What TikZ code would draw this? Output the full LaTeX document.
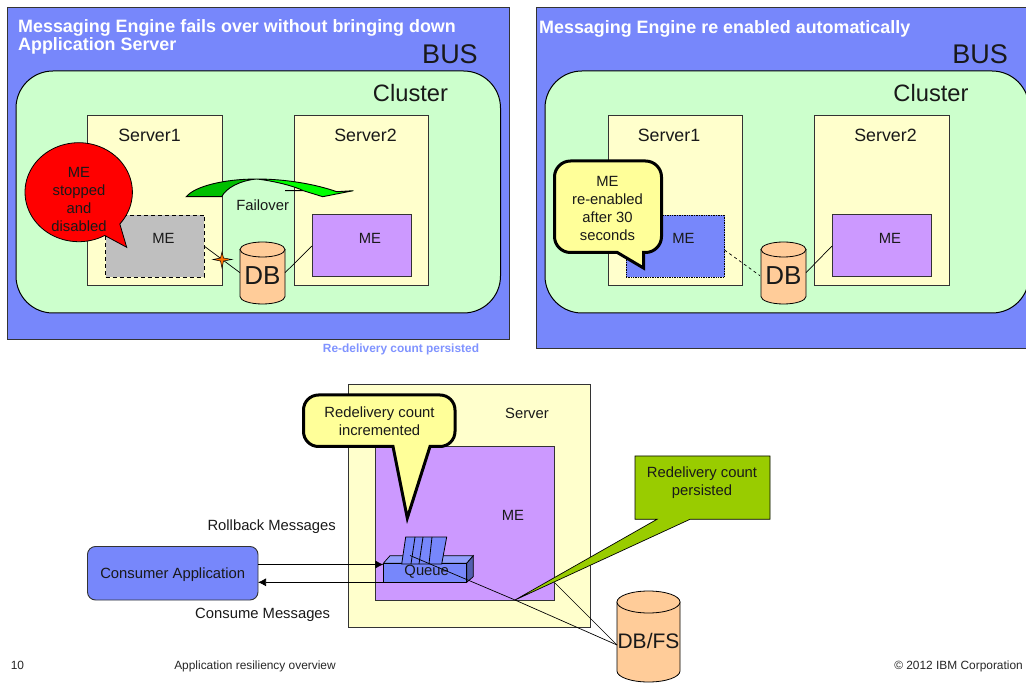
\documentclass[tikz,border=0pt]{standalone}
\usepackage{fontspec}
\setmainfont{Liberation Sans}
\definecolor{busblue}{HTML}{7787FB}
\definecolor{clustergreen}{HTML}{CCFFCC}
\definecolor{srvyellow}{HTML}{FFFFCC}
\definecolor{mepurple}{HTML}{CC99FF}
\definecolor{megray}{HTML}{BFBFBF}
\definecolor{canorange}{HTML}{FFCC99}
\definecolor{noteyellow}{HTML}{FFFF99}
\definecolor{noteolive}{HTML}{99CC00}
\definecolor{edgegray}{HTML}{333333}
\definecolor{faintblue}{HTML}{8093FF}
\tikzset{
  sz/.style 2 args={minimum width=#1pt,minimum height=#2pt,inner sep=0pt,outer sep=0pt},
  panel/.style={draw=edgegray,fill=busblue,line width=1pt},
  clusterbox/.style={draw=black,fill=clustergreen,line width=1pt,rounded corners=37pt},
  srvbox/.style={draw=edgegray,fill=srvyellow,line width=1pt},
  mebox/.style={draw=edgegray,fill=mepurple,line width=1pt},
  can/.style={draw=black,fill=canorange,line width=0.8pt},
  conn/.style={draw=black,line width=0.7pt},
  arrowconn/.style={draw=black,line width=0.7pt,-{Latex[length=8pt,width=8pt]}},
  txt/.style={anchor=base,inner sep=0pt,font=\fontsize{14.8}{18}\selectfont,text=black!90},
  bus/.style={txt,font=\fontsize{27}{30}\selectfont},
  clustertxt/.style={txt,font=\fontsize{23.7}{28}\selectfont},
  srvtxt/.style={txt,font=\fontsize{17.8}{20}\selectfont},
  title/.style={anchor=base west,inner sep=0pt,align=left,text=white,font=\fontsize{17.9}{19}\selectfont\bfseries},
  multi/.style={anchor=center,inner sep=0pt,align=center,text=black!90,font=\fontsize{14.8}{18}\selectfont},
  foot/.style={anchor=base,inner sep=0pt,text=black!85,font=\fontsize{11.9}{13}\selectfont},
  callout/.style={draw=black,fill=noteyellow,line width=3pt,line join=miter},
}
\usetikzlibrary{arrows.meta}
\newcommand{\dbcan}[5]{%
  \draw[can] ({#1-#4},#2) -- ({#1-#4},#3)
    arc[start angle=180,end angle=360,x radius=#4pt,y radius=#5pt] -- ({#1+#4},#2) -- cycle;
  \draw[can] (#1,#2) ellipse[x radius=#4pt,y radius=#5pt];}
% rounded note with a tail: x1,y1,x2,y2,radius,tail right x,tip x,tip y,tail left x
\newcommand{\tailnote}[9]{%
  \draw[callout] ({#1+#5},#2) -- ({#3-#5},#2)
    arc[start angle=90,end angle=0,radius=#5pt] -- (#3,{#4-#5})
    arc[start angle=0,end angle=-90,radius=#5pt] -- (#6,#4) -- (#7,#8) -- (#9,#4) -- ({#1+#5},#4)
    arc[start angle=-90,end angle=-180,radius=#5pt] -- (#1,{#2+#5})
    arc[start angle=180,end angle=90,radius=#5pt] -- cycle;}
\begin{document}
\begin{tikzpicture}[x=1pt,y=-1pt]
\useasboundingbox (0,0) rectangle (1026,684);
\clip (0,0) rectangle (1026,684);

% ---------- left panel
\node[panel,sz={502.5}{332}] (busL) at (258.25,174) {};
\node[title] (titleL) at (18,51) {Messaging Engine fails over without bringing down\\[-0.4pt]Application Server};
\node[bus] (busLtxt) at (450,63.3) {BUS};
\node[clusterbox,sz={484.5}{242}] (clusL) at (258.25,192) {};
\node[clustertxt] (clusLtxt) at (410.5,101.7) {Cluster};
\node[srvbox,sz={135}{170}] (s1L) at (155,201) {};
\node[srvbox,sz={134.5}{170}] (s2L) at (361.25,201) {};
\node[srvtxt] (s1Ltxt) at (149.5,141.7) {Server1};
\node[srvtxt] (s2Ltxt) at (365.5,141.7) {Server2};
\node[draw=black,fill=megray,line width=0.8pt,dash pattern=on 4pt off 3pt,sz={98.5}{62}] (meL1) at (154.75,246) {};
\node[mebox,sz={99}{62}] (meL2) at (361.5,246) {};
\node[txt] (meL1txt) at (163.5,243.3) {ME};
\node[txt] (meL2txt) at (370,243.3) {ME};
\dbcan{262.5}{249.5}{296.5}{22.5}{7.5}
\node[sz={45}{63}] (dbL) at (262.5,272.7) {};
\node[txt,font=\fontsize{26}{28}\selectfont] (dbLtxt) at (262.5,285) {DB};
\draw[conn] (meL1.east) -- (dbL.west);
\draw[conn] (dbL.east) -- (meL2.west);
% star on the broken link
\draw[fill=orange!90!red,draw=black,line width=0.5pt]
  (213,259.5) -- (220.5,258) -- (222,252) -- (223.5,258) -- (232,259.5) -- (223.5,261) -- (222,268) -- (220.5,261) -- cycle;
% failover
\node[fill=clustergreen,sz={69}{18}] (failL) at (259.5,206) {};
\node[txt] (failLtxt) at (262.7,211) {Failover};
\draw[draw=black,line width=0.9pt,fill=green!75!black]
  (186.3,196.7) .. controls (195,186) and (225,179) .. (256.7,179)
  .. controls (240,180.5) and (226,188) .. (221.7,196.7) -- cycle;
\draw[draw=black,line width=0.9pt,fill=green]
  (256.7,179) .. controls (285,179) and (315,184) .. (336.7,191.7)
  -- (353.3,190.7) -- (322.7,196.7) -- (303.3,190.7) -- (285,190.7) -- (303.3,190.7)
  .. controls (294,186) and (274,181) .. (256.7,179) -- cycle;
% red callout
\draw[draw=black,fill=red,line width=0.8pt]
  plot[domain=61:400,samples=90] ({78.7+53.7*cos(\x)},{192.2+49.5*sin(\x)})
  -- (126.7,247.3) -- cycle;
\node[multi] (noteL) at (79,199) {ME\\stopped\\and\\disabled};

% ---------- right panel
\node[panel,sz={500}{341}] (busR) at (786,178.5) {};
\node[title] (titleR) at (539,33.3) {Messaging Engine re enabled automatically};
\node[bus] (busRtxt) at (980,63.3) {BUS};
\node[clusterbox,sz={484}{242}] (clusR) at (787,192) {};
\node[clustertxt] (clusRtxt) at (931,101.7) {Cluster};
\node[srvbox,sz={134}{170}] (s1R) at (675,201) {};
\node[srvbox,sz={135}{170}] (s2R) at (881.5,201) {};
\node[srvtxt] (s1Rtxt) at (669,141.7) {Server1};
\node[srvtxt] (s2Rtxt) at (885.5,141.7) {Server2};
\node[draw=black,fill=busblue,line width=0.7pt,densely dotted,sz={98.5}{62}] (meR1) at (675.25,246) {};
\node[mebox,sz={99}{62}] (meR2) at (881.5,246) {};
\node[txt] (meR1txt) at (683.5,243.3) {ME};
\node[txt] (meR2txt) at (890,243.3) {ME};
\dbcan{783.5}{249.5}{296.5}{22.5}{7.5}
\node[sz={45}{63}] (dbR) at (783.5,272.7) {};
\node[txt,font=\fontsize{26}{28}\selectfont] (dbRtxt) at (783.5,285) {DB};
\draw[conn,dashed] ([yshift=-4pt]meR1.east) -- ([xshift=-1pt,yshift=-3pt]dbR.west);
\draw[conn] (dbR.east) -- (meR2.west);
\tailnote{554.5}{161}{661.5}{252.5}{16}{643.5}{643.5}{268}{617.3}
\node[multi] (noteR) at (607.5,208) {ME\\re-enabled\\after 30\\seconds};

% ---------- redelivery caption
\node[foot,text=faintblue,font=\fontsize{11.9}{13}\selectfont\bfseries] (redel) at (401,353) {Re-delivery count persisted};

% ---------- bottom diagram
\node[srvbox,sz={242}{242}] (srvB) at (469,506) {};
\node[mebox,sz={179}{153}] (meB) at (464.5,523.5) {};
\node[txt] (srvBtxt) at (527,419) {Server};
\node[txt] (meBtxt) at (513,520) {ME};
\node[draw=edgegray,fill=busblue,line width=0.9pt,rounded corners=8pt,sz={170.5}{53.5}] (consumer) at (172.75,573.25) {};
\node[txt] (consumerTxt) at (172.7,578) {Consumer Application};
\node[txt] (rollback) at (271.7,530) {Rollback Messages};
\node[txt] (consume) at (262.7,618.3) {Consume Messages};
% queue
\draw[draw=black,line width=0.7pt,fill=busblue!80!white] (383.3,563.3) -- (390,555.7) -- (473.3,555.7) -- (466.7,563.3) -- cycle;
\draw[draw=black,line width=0.7pt,fill=busblue!70!black] (466.7,563.3) -- (473.3,555.7) -- (473.3,576.7) -- (466.7,582.3) -- cycle;
\node[draw=black,fill=busblue,line width=0.8pt,sz={83.4}{19}] (queue) at (425,572.8) {};
\draw[draw=black,line width=0.8pt,fill=busblue] (405.7,537) -- (446.7,537) -- (441.7,564) -- (401.7,564) -- cycle;
\draw[draw=black,line width=0.8pt] (415,537) -- (411,564) (423,537) -- (419,564) (432,537) -- (429,564);
\node[txt] (queueTxt) at (426.7,575.7) {Queue};
\draw[arrowconn] (consumer.east |- 0,564.5) -- (queue.west |- 0,564.5);
\draw[arrowconn] (queue.south west) -- (consumer.east |- 0,582.3);
% green note
\draw[draw=black,fill=noteolive,line width=0.7pt]
  (635,456) -- (770,456) -- (770,519.3) -- (690,519.3) -- (515,600) -- (657,519.3) -- (635,519.3) -- cycle;
\node[multi] (noteG) at (702,482.5) {Redelivery count\\persisted};
% yellow note
\tailnote{303.5}{395}{455}{446.5}{15}{430}{407.3}{518}{393}
\node[multi] (noteY) at (379.5,421.5) {Redelivery count\\incremented};
% store
\dbcan{648.5}{602}{671}{31.5}{11}
\node[sz={63}{90}] (dbfs) at (648.5,636.5) {};
\node[txt,font=\fontsize{21}{24}\selectfont] (dbfsTxt) at (648.5,648.3) {DB/FS};
\coordinate (qmsg) at (410,555.5);
\coordinate (hub) at (515,600);
\coordinate (mecorner) at (555,583);
\draw[conn] (qmsg) -- (hub) -- ([yshift=-8.5pt]dbfs.west);
\draw[conn] (mecorner) -- ([yshift=-8.5pt]dbfs.west);

% ---------- footer
\node[foot] (footNum) at (17.5,669) {10};
\node[foot] (footMid) at (255,669) {Application resiliency overview};
\node[foot,anchor=base east] (footR) at (1023,669) {© 2012 IBM Corporation};
\end{tikzpicture}
\end{document}
